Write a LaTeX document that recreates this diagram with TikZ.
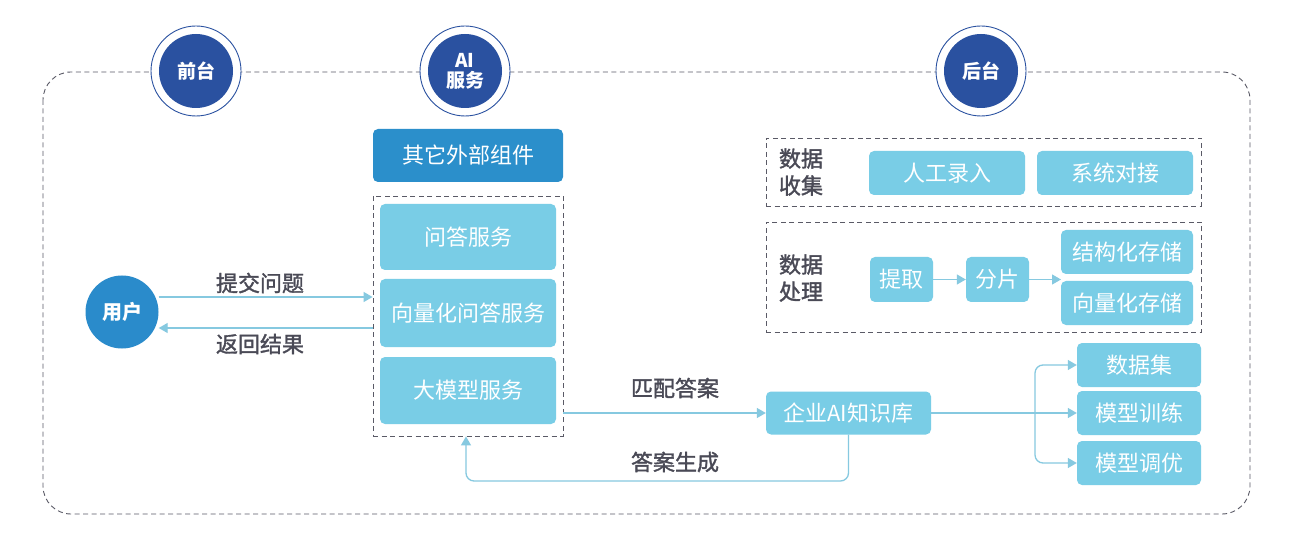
\documentclass[tikz,border=0pt]{standalone}
\usepackage{fontspec}
\setmainfont{Noto Sans CJK SC}
\newfontfamily\labfont[FakeBold=1.5]{Noto Sans CJK SC}
\usetikzlibrary{arrows.meta,calc}
\definecolor{navy}{HTML}{2A51A0}
\definecolor{extb}{HTML}{2B8FCB}
\definecolor{userb}{HTML}{2A8BCB}
\definecolor{lightb}{HTML}{79CDE6}
\definecolor{lineb}{HTML}{86C9E0}
\definecolor{dashg}{HTML}{5A5A66}
\definecolor{labg}{HTML}{4A4A56}
\begin{document}
\begin{tikzpicture}[x=1pt,y=-1pt,
  every node/.style={font=\fontsize{22}{25}\selectfont},
  lbox/.style={rectangle, rounded corners=5pt, fill=lightb, text=white, inner sep=0pt},
  dbox/.style={draw=dashg, dash pattern=on 5pt off 3.5pt, line width=0.9pt},
  arr/.style={draw=lineb, line width=1.3pt, -{Triangle[length=9pt,width=10pt]}},
  lab/.style={text=labg, font=\labfont\fontsize{22}{27}\selectfont},
  ring/.style={circle, draw=navy, line width=0.9pt, fill=white, minimum size=90pt, inner sep=0pt},
  disc/.style={circle, fill=navy, minimum size=74pt, inner sep=0pt, text=white, font=\fontsize{19}{20}\selectfont\bfseries}
]
\useasboundingbox (0,0) rectangle (1293,553);
\fill[white] (0,0) rectangle (1293,553);
% outer frame
\draw[dbox, rounded corners=28pt] (43,72) rectangle (1250,514);
% header circles
\node[ring] (r1) at (196,71) {};
\node[disc] (c1) at (196,71) {前台};
\node[ring] (r2) at (465,71) {};
\node[disc, align=center] (c2) at (465,71) {AI\\服务};
\node[ring] (r3) at (981,71) {};
\node[disc] (c3) at (981,71) {后台};
% user
\node[circle, fill=userb, minimum size=73pt, inner sep=0pt, text=white, font=\fontsize{20}{22}\selectfont\bfseries] (user) at (122,312) {用户};
% AI service column
\node[lbox, fill=extb, minimum width=190pt, minimum height=53pt] (ext) at (468,155.5) {其它外部组件};
\node[dbox, rectangle, minimum width=190pt, minimum height=240pt, inner sep=0pt] (inner) at (468,316) {};
\node[lbox, minimum width=176pt, minimum height=66pt] (qa) at (468,237) {问答服务};
\node[lbox, minimum width=176pt, minimum height=68pt] (vqa) at (468,313) {向量化问答服务};
\node[lbox, minimum width=176pt, minimum height=67pt] (llm) at (468,390.5) {大模型服务};
% user arrows
\draw[arr] (user.east |- 0,297) -- (inner.west |- 0,297);
\draw[arr] (inner.west |- 0,328) -- (user.east |- 0,328);
\node[lab] (t1) at (260,283) {提交问题};
\node[lab] (t2) at (260,344) {返回结果};
% knowledge base
\node[lbox, minimum width=165pt, minimum height=43pt] (kb) at (848.5,413) {企业AI知识库};
\draw[arr] (inner.east |- kb) -- (kb.west);
\node[lab] (t3) at (675,388) {匹配答案};
\coordinate (gen) at (466,481);
\draw[arr, rounded corners=8pt] (kb.south) |- (gen) -- (inner.south -| gen);
\node[lab] (t4) at (675,462) {答案生成};
% outputs
\node[lbox, minimum width=124pt, minimum height=44pt] (ds) at (1139,365) {数据集};
\node[lbox, minimum width=124pt, minimum height=44pt] (mt) at (1139,413) {模型训练};
\node[lbox, minimum width=124pt, minimum height=44pt] (mo) at (1139,463) {模型调优};
\coordinate (br) at (1035,413);
\draw[arr] (kb.east) -- (mt.west);
\draw[arr, rounded corners=8pt] (br) |- (ds.west);
\draw[arr, rounded corners=8pt] (br) |- (mo.west);
% data collection
\node[dbox, rectangle, minimum width=435pt, minimum height=68pt, inner sep=0pt] (col) at (983.5,172) {};
\node[lab, align=center] (t5) at (801,172) {数据\\收集};
\node[lbox, minimum width=156pt, minimum height=44pt] (manual) at (947,173) {人工录入};
\node[lbox, minimum width=156pt, minimum height=44pt] (sys) at (1115,173) {系统对接};
% data processing
\node[dbox, rectangle, minimum width=435pt, minimum height=110pt, inner sep=0pt] (proc) at (983.5,277) {};
\node[lab, align=center] (t6) at (801,278) {数据\\处理};
\node[lbox, minimum width=63pt, minimum height=45pt] (ext2) at (901.5,279.5) {提取};
\node[lbox, minimum width=63pt, minimum height=45pt] (cut) at (997.5,279.5) {分片};
\node[lbox, minimum width=132pt, minimum height=44pt] (st1) at (1127,252) {结构化存储};
\node[lbox, minimum width=132pt, minimum height=44pt] (st2) at (1127,303) {向量化存储};
\coordinate (stin) at (1061,279.5);
\draw[arr] (ext2.east) -- (cut.west);
\draw[arr] (cut.east) -- (stin);
\end{tikzpicture}
\end{document}
